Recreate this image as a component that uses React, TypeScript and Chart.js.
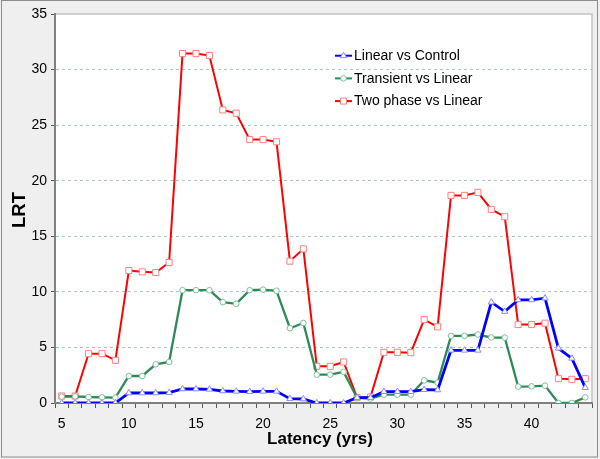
import React, { useEffect, useRef } from "react";
import { Chart, registerables } from "chart.js";

Chart.register(...registerables);

const latency = [5, 6, 7, 8, 9, 10, 11, 12, 13, 14, 15, 16, 17, 18, 19, 20, 21, 22, 23, 24, 25, 26, 27, 28, 29, 30, 31, 32, 33, 34, 35, 36, 37, 38, 39, 40, 41, 42, 43, 44];

const linearVsControl = [0, 0, 0, 0, 0, 0.9, 0.9, 0.9, 0.93, 1.26, 1.26, 1.23, 1.08, 1.05, 1.02, 1.05, 1.05, 0.39, 0.36, 0, 0, 0, 0.48, 0.48, 1.02, 1.02, 1.02, 1.2, 1.17, 4.74, 4.74, 4.74, 9.07, 8.23, 9.28, 9.28, 9.43, 4.92, 4.02, 1.38];

const transientVsLinear = [0.57, 0.6, 0.54, 0.51, 0.48, 2.43, 2.43, 3.48, 3.69, 10.15, 10.15, 10.15, 9.07, 8.92, 10.15, 10.2, 10.1, 6.73, 7.2, 2.55, 2.55, 2.8, 0.45, 0.4, 0.75, 0.75, 0.75, 2.04, 1.83, 6.04, 6.04, 6.16, 5.89, 5.89, 1.47, 1.5, 1.56, 0, 0, 0.51];

const twoPhaseVsLinear = [0.63, 0.63, 4.44, 4.44, 3.84, 11.92, 11.8, 11.74, 12.64, 31.44, 31.44, 31.26, 26.37, 26.07, 23.7, 23.7, 23.5, 12.76, 13.87, 3.3, 3.3, 3.69, 0.48, 0.54, 4.56, 4.56, 4.53, 7.5, 6.85, 18.68, 18.68, 18.95, 17.42, 16.76, 7.06, 7.06, 7.18, 2.19, 2.13, 2.19];

const seriesNames = ["Linear vs Control", "Transient vs Linear", "Two phase vs Linear"];
const yTicks = [0, 5, 10, 15, 20, 25, 30, 35];
const xTitle = "Latency (yrs)";
const yTitle = "LRT";

const FONT = "'Liberation Sans', Arial, sans-serif";

const decorPlugin = {
  id: "decor",
  beforeDraw(chart: any) {
    const { ctx, chartArea: a, width, height } = chart;
    ctx.save();
    ctx.fillStyle = "#efefef";
    ctx.fillRect(0, 0, width, height);
    ctx.strokeStyle = "#8c8c8c";
    ctx.lineWidth = 1;
    ctx.strokeRect(1.5, 0.5, 596, 456.5);
    ctx.fillStyle = "#ffffff";
    ctx.fillRect(a.left, a.top, a.right - a.left, a.bottom - a.top);
    ctx.strokeStyle = "#c4c4c4";
    ctx.lineWidth = 1.5;
    ctx.beginPath();
    ctx.moveTo(a.left, a.top);
    ctx.lineTo(a.right, a.top);
    ctx.lineTo(a.right, a.bottom);
    ctx.stroke();
    ctx.restore();
  },
  afterDraw(chart: any) {
    const { ctx } = chart;
    ctx.save();
    // titles
    ctx.fillStyle = "#000";
    ctx.textAlign = "center";
    ctx.textBaseline = "middle";
    ctx.font = `bold 17px ${FONT}`;
    ctx.fillText(xTitle, 320, 439);
    ctx.save();
    ctx.translate(19.5, 210);
    ctx.rotate(-Math.PI / 2);
    ctx.font = `bold 18.5px ${FONT}`;
    ctx.fillText(yTitle, 0, 0);
    ctx.restore();
    // legend
    const ds = chart.data.datasets;
    ctx.textAlign = "left";
    ctx.font = `14px ${FONT}`;
    ds.forEach((d: any, i: number) => {
      const y = 55.7 + 22.7 * i;
      ctx.strokeStyle = d.borderColor;
      ctx.lineWidth = 2;
      ctx.beginPath();
      ctx.moveTo(335, y);
      ctx.lineTo(352, y);
      ctx.stroke();
      ctx.fillStyle = "#fff";
      ctx.strokeStyle = d.pointBorderColor;
      ctx.lineWidth = 1;
      const cx = 343.5;
      ctx.beginPath();
      if (d.pointStyle === "triangle") {
        ctx.moveTo(cx, y - 3.5);
        ctx.lineTo(cx + 3.2, y + 2);
        ctx.lineTo(cx - 3.2, y + 2);
        ctx.closePath();
      } else if (d.pointStyle === "circle") {
        ctx.arc(cx, y, 2.8, 0, Math.PI * 2);
      } else {
        ctx.rect(cx - 3, y - 3, 6, 6);
      }
      ctx.fill();
      ctx.stroke();
      ctx.fillStyle = "#000";
      ctx.fillText(d.label, 354, y + 0.5);
    });
    ctx.restore();
  },
};

export default function App() {
  const ref = useRef<HTMLCanvasElement | null>(null);
  useEffect(() => {
    document.body.style.margin = "0";
    const canvas = ref.current;
    if (!canvas) return;
    const chart = new Chart(canvas, {
      type: "line",
      data: {
        labels: latency.map(String),
        datasets: [
          {
            label: seriesNames[0],
            data: linearVsControl,
            borderColor: "#0000ff",
            borderWidth: 2.8,
            pointStyle: "triangle",
            pointRadius: 3.6,
            pointBorderWidth: 1,
            pointBackgroundColor: "#ffffff",
            pointBorderColor: "#8a8aff",
            tension: 0,
          },
          {
            label: seriesNames[1],
            data: transientVsLinear,
            borderColor: "#2e8b57",
            borderWidth: 2.3,
            pointStyle: "circle",
            pointRadius: 2.8,
            pointBorderWidth: 1,
            pointBackgroundColor: "#ffffff",
            pointBorderColor: "#7fbf9a",
            tension: 0,
          },
          {
            label: seriesNames[2],
            data: twoPhaseVsLinear,
            borderColor: "#ff0000",
            borderWidth: 2,
            pointStyle: "rect",
            pointRadius: 4.3,
            pointBorderWidth: 1,
            pointBackgroundColor: "#ffffff",
            pointBorderColor: "#ff8080",
            tension: 0,
          },
        ],
      } as any,
      options: {
        responsive: false,
        animation: false,
        layout: { padding: { top: 14, right: 8, left: 0, bottom: 0 } },
        plugins: {
          legend: { display: false },
          tooltip: { enabled: false },
        },
        scales: {
          x: {
            type: "category",
            offset: true,
            afterFit: (s: any) => {
              s.height = 56;
            },
            grid: {
              display: true,
              offset: true,
              drawOnChartArea: false,
              drawTicks: true,
              tickLength: 5,
              tickColor: "#555555",
              tickWidth: 1,
            },
            border: { display: true, color: "#808080", width: 2 },
            ticks: {
              autoSkip: false,
              maxRotation: 0,
              minRotation: 0,
              padding: 8,
              color: "#000",
              font: { family: FONT, size: 14 },
              callback: (_v: any, i: number) => (latency[i] % 5 === 0 ? String(latency[i]) : ""),
            },
          },
          y: {
            min: yTicks[0],
            max: yTicks[yTicks.length - 1],
            afterFit: (s: any) => {
              s.width = 55;
            },
            afterBuildTicks: (s: any) => {
              s.ticks = yTicks.map((v) => ({ value: v }));
            },
            grid: {
              color: (c: any) =>
                c.tick && (c.tick.value === 0 || c.tick.value === 35) ? "rgba(0,0,0,0)" : "#a9c6c6",
              lineWidth: 1,
              drawTicks: true,
              tickLength: 4,
              tickColor: "#555555",
            },
            border: { display: true, color: "#808080", width: 2, dash: [3, 3] },
            ticks: {
              padding: 4,
              color: "#000",
              font: { family: FONT, size: 14 },
            },
          },
        },
      } as any,
      plugins: [decorPlugin],
    });
    return () => chart.destroy();
  }, []);
  return (
    <div style={{ width: 600, height: 459 }}>
      <canvas ref={ref} width={600} height={459} style={{ display: "block", width: 600, height: 459 }} />
    </div>
  );
}
